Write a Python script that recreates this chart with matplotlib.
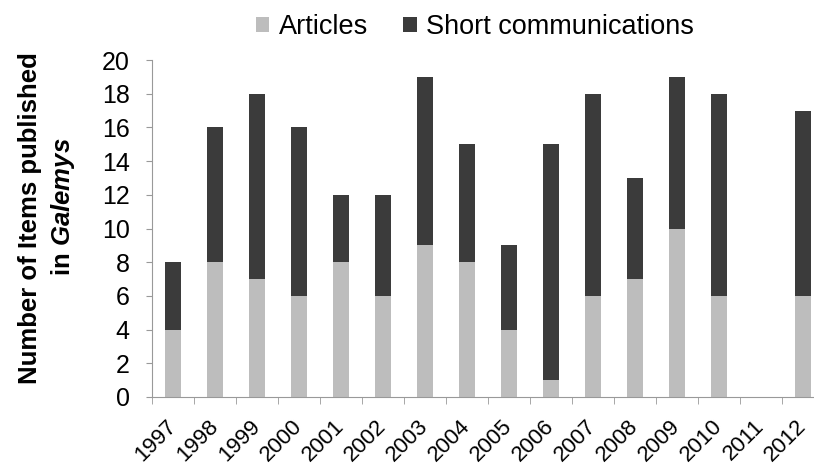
import numpy as np
import matplotlib.pyplot as plt
from matplotlib.ticker import FixedLocator

plt.rcParams['font.family'] = ['Liberation Sans', 'DejaVu Sans']
plt.rcParams['mathtext.fontset'] = 'custom'
plt.rcParams['mathtext.bfit'] = 'Liberation Sans:bold:italic'

years = ['1997', '1998', '1999', '2000', '2001', '2002', '2003', '2004',
         '2005', '2006', '2007', '2008', '2009', '2010', '2011', '2012']
articles = [4, 8, 7, 6, 8, 6, 9, 8, 4, 1, 6, 7, 10, 6, 0, 6]
short_comms = [4, 8, 11, 10, 4, 6, 10, 7, 5, 14, 12, 6, 9, 12, 0, 11]

fig = plt.figure(figsize=(8.14, 4.72), dpi=100)
ax = fig.add_axes([152/814, 1 - 397/472, 1 - 152/814, (397 - 60)/472])

x = np.arange(len(years))
ax.bar(x, articles, width=0.4, color='#bdbdbd', label='Articles')
ax.bar(x, short_comms, width=0.4, bottom=articles, color='#3b3b3b',
       label='Short communications')

ax.set_xlim(-0.5, 15.26)
ax.set_ylim(0, 20)
ax.set_yticks(range(0, 21, 2))
ax.set_xticks(x)
ax.set_xticklabels(years, rotation=45, ha='right', va='center',
                   rotation_mode='anchor')
ax.xaxis.set_minor_locator(FixedLocator(np.arange(-0.5, 16, 1)))
ax.tick_params(axis='x', which='major', length=0, labelsize=16, pad=19)
ax.tick_params(axis='x', which='minor', length=5, color='#999999')
ax.tick_params(axis='y', length=4, color='#999999', labelsize=18, pad=12)

for side in ['top', 'right']:
    ax.spines[side].set_visible(False)
for side in ['left', 'bottom']:
    ax.spines[side].set_color('#999999')

fig.text(30/814, 1 - 218/472, 'Number of Items published', rotation=90,
         ha='center', va='center', fontsize=18.5, fontweight='bold')
fig.text(63/814, 1 - 207/472, 'in $\\mathbfit{Galemys}$', rotation=90,
         ha='center', va='center', fontsize=18.5, fontweight='bold')

fig.legend(loc='center', bbox_to_anchor=(475/814, 1 - 27/472), ncol=2,
           frameon=False, fontsize=19.5, handlelength=0.5, handleheight=0.5,
           handletextpad=0.35, columnspacing=1.3)

fig.savefig('out.png', dpi=100)
